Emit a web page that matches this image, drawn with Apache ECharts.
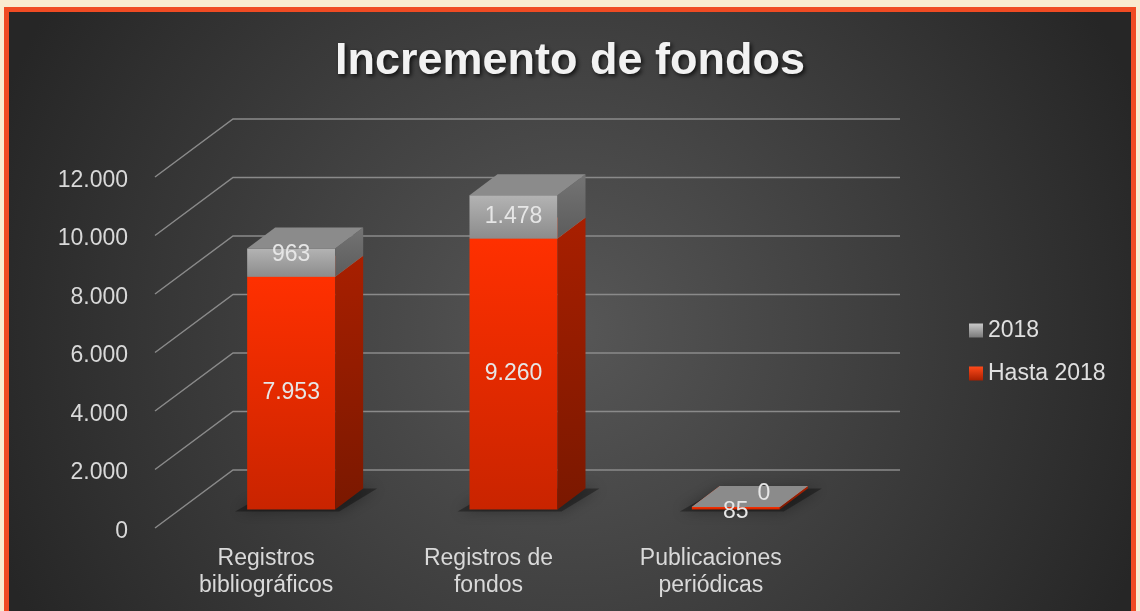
<!DOCTYPE html>
<html lang="es">
<head>
    <meta charset="UTF-8">
    <title>Incremento de fondos</title>
    <script src="https://cdn.jsdelivr.net/npm/echarts@6/dist/echarts.min.js"></script>
    <style>
        html, body { margin: 0; height: 100%; background: #F9EBD0; }
        #main { width: 1140px; height: 611px; }
    </style>
</head>
<body>
<div id="main"></div>
<script type="text/javascript">
// datos
var categories = ['Registros\nbibliográficos', 'Registros de\nfondos', 'Publicaciones\nperiódicas'];
var hasta2018 = [7953, 9260, 85];
var anio2018 = [963, 1478, 0];
var yTicks = [0, 2000, 4000, 6000, 8000, 10000, 12000];

// geometria del "3D"
var OX = 25, OY = -18.6;   // desplazamiento de la cara frontal de la barra
var DX = 28, DY = -21;     // profundidad de la barra
var BX = 78, BY = -58;     // profundidad del plano de fondo
var HALF = 44;
var FONT = '"Liberation Sans", Arial, sans-serif';

function fmt(v) {
    return String(v).replace(/\B(?=(\d{3})+(?!\d))/g, '.');
}

function lin(c1, c2) {
    return new echarts.graphic.LinearGradient(0, 0, 0, 1, [
        {offset: 0, color: c1}, {offset: 1, color: c2}
    ]);
}

var palette = {
    red: {front: ['#ff3000', '#c92400'], side: ['#a81f00', '#7a1800'], top: '#ff5a33', z2: 1},
    gray: {front: ['#b3b3b3', '#8c8c8c'], side: ['#747474', '#5c5c5c'], top: '#8b8b8b', z2: 2}
};

function gridRender(params, api) {
    var p = api.coord([0, api.value(1)]);
    var band = api.size([1, 0])[0];
    var fx = p[0] - band / 2;
    return {
        type: 'polyline',
        silent: true,
        shape: {points: [[fx, p[1]], [fx + BX, p[1] + BY], [fx + BX + band * categories.length, p[1] + BY]]},
        style: {stroke: '#8a8a8a', lineWidth: 1.5, fill: 'none'}
    };
}

function barRender(kind) {
    var c = palette[kind];
    return function (params, api) {
        var i = api.value(0), lo = api.value(1), hi = api.value(2), shown = api.value(3);
        var pLo = api.coord([i, lo]), pHi = api.coord([i, hi]);
        var cx = pLo[0] + OX, x1 = cx - HALF, x2 = cx + HALF;
        var yb = pLo[1] + OY, yt = pHi[1] + OY;
        var kids = [];
        if (lo === 0) {
            kids.push({
                type: 'polygon', z2: 0,
                shape: {points: [[x1 - 12, yb + 2], [x2 + 4, yb + 2], [x2 + DX + 14, yb + DY], [x1 + DX, yb + DY]]},
                style: {fill: 'rgba(0,0,0,0.35)', shadowBlur: 14, shadowColor: 'rgba(0,0,0,0.9)'}
            });
        }
        kids.push({
            type: 'rect', z2: c.z2,
            shape: {x: x1, y: yt, width: x2 - x1, height: Math.max(yb - yt, 0)},
            style: {fill: lin(c.front[0], c.front[1])}
        });
        kids.push({
            type: 'polygon', z2: c.z2,
            shape: {points: [[x2, yb], [x2 + DX, yb + DY], [x2 + DX, yt + DY], [x2, yt]]},
            style: {fill: lin(c.side[0], c.side[1])}
        });
        kids.push({
            type: 'polygon', z2: c.z2,
            shape: {points: [[x1, yt], [x2, yt], [x2 + DX, yt + DY], [x1 + DX, yt + DY]]},
            style: {fill: c.top}
        });
        var h = yb - yt;
        var lx = cx, ly = (yt + yb) / 2;
        if (h < 6 && kind === 'gray') {
            lx = cx + DX / 2 + 14;
            ly = yt + DY / 2 - 3;
        } else if (h < 6) {
            ly = yb + 2;
        } else if (h < 32) {
            ly = yt + 6;
        }
        kids.push({
            type: 'text', z2: 10,
            style: {
                text: fmt(shown), x: lx, y: ly, align: 'center', verticalAlign: 'middle',
                fill: '#e6e6e6', font: '23px ' + FONT
            }
        });
        return {type: 'group', children: kids};
    };
}

var chartDom = document.getElementById('main');
var myChart = echarts.init(chartDom);
var option;

option = {
    backgroundColor: '#F9EBD0',
    animation: false,
    graphic: [{
        type: 'rect',
        z: -100,
        silent: true,
        shape: {x: 6.5, y: 9.5, width: 1127, height: 640},
        style: {
            fill: {
                type: 'radial', x: 0.5, y: 0.5, r: 0.95,
                colorStops: [{offset: 0, color: '#575757'}, {offset: 1, color: '#262626'}]
            },
            stroke: '#F04B23',
            lineWidth: 5
        }
    }],
    title: {
        text: 'Incremento de fondos',
        left: 'center',
        top: 34,
        textStyle: {
            color: '#f2f2f2', fontSize: 45, fontWeight: 'bold', fontFamily: FONT,
            textShadowColor: 'rgba(0,0,0,0.75)', textShadowBlur: 4,
            textShadowOffsetX: 2, textShadowOffsetY: 2
        }
    },
    legend: {
        orient: 'vertical',
        left: 964,
        top: 314,
        icon: 'rect',
        itemWidth: 14,
        itemHeight: 14,
        itemGap: 20,
        data: [
            {name: '2018', itemStyle: {color: lin('#c8c8c8', '#7a7a7a')}},
            {name: 'Hasta 2018', itemStyle: {color: lin('#ff4a1a', '#a81f00')}}
        ],
        textStyle: {color: '#e0e0e0', fontSize: 23, fontFamily: FONT}
    },
    grid: {left: 155, right: 318, top: 177, bottom: 83},
    xAxis: {
        type: 'category',
        data: categories,
        axisLine: {show: false},
        axisTick: {show: false},
        axisLabel: {margin: 17, lineHeight: 27, fontSize: 23, color: '#d9d9d9', fontFamily: FONT}
    },
    yAxis: {
        type: 'value',
        min: 0,
        max: 12000,
        interval: 2000,
        splitLine: {show: false},
        axisLine: {show: false},
        axisTick: {show: false},
        axisLabel: {
            margin: 27,
            formatter: function (v) { return '{a|' + fmt(v) + '}'; },
            rich: {a: {fontSize: 23, color: '#d9d9d9', fontFamily: FONT, padding: [7, 0, 0, 0]}}
        }
    },
    series: [
        {
            name: 'grid',
            type: 'custom',
            silent: true,
            renderItem: gridRender,
            encode: {x: 0, y: 1},
            data: yTicks.map(function (v) { return [0, v]; }),
            z: 1
        },
        {
            name: 'Hasta 2018',
            type: 'custom',
            itemStyle: {color: '#d9300a'},
            renderItem: barRender('red'),
            encode: {x: 0, y: [1, 2]},
            data: hasta2018.map(function (v, i) { return [i, 0, v, v]; }),
            z: 3
        },
        {
            name: '2018',
            type: 'custom',
            itemStyle: {color: '#9a9a9a'},
            renderItem: barRender('gray'),
            encode: {x: 0, y: [1, 2]},
            data: anio2018.map(function (v, i) { return [i, hasta2018[i], hasta2018[i] + v, v]; }),
            z: 3
        }
    ]
};

option && myChart.setOption(option);
</script>
</body>
</html>
